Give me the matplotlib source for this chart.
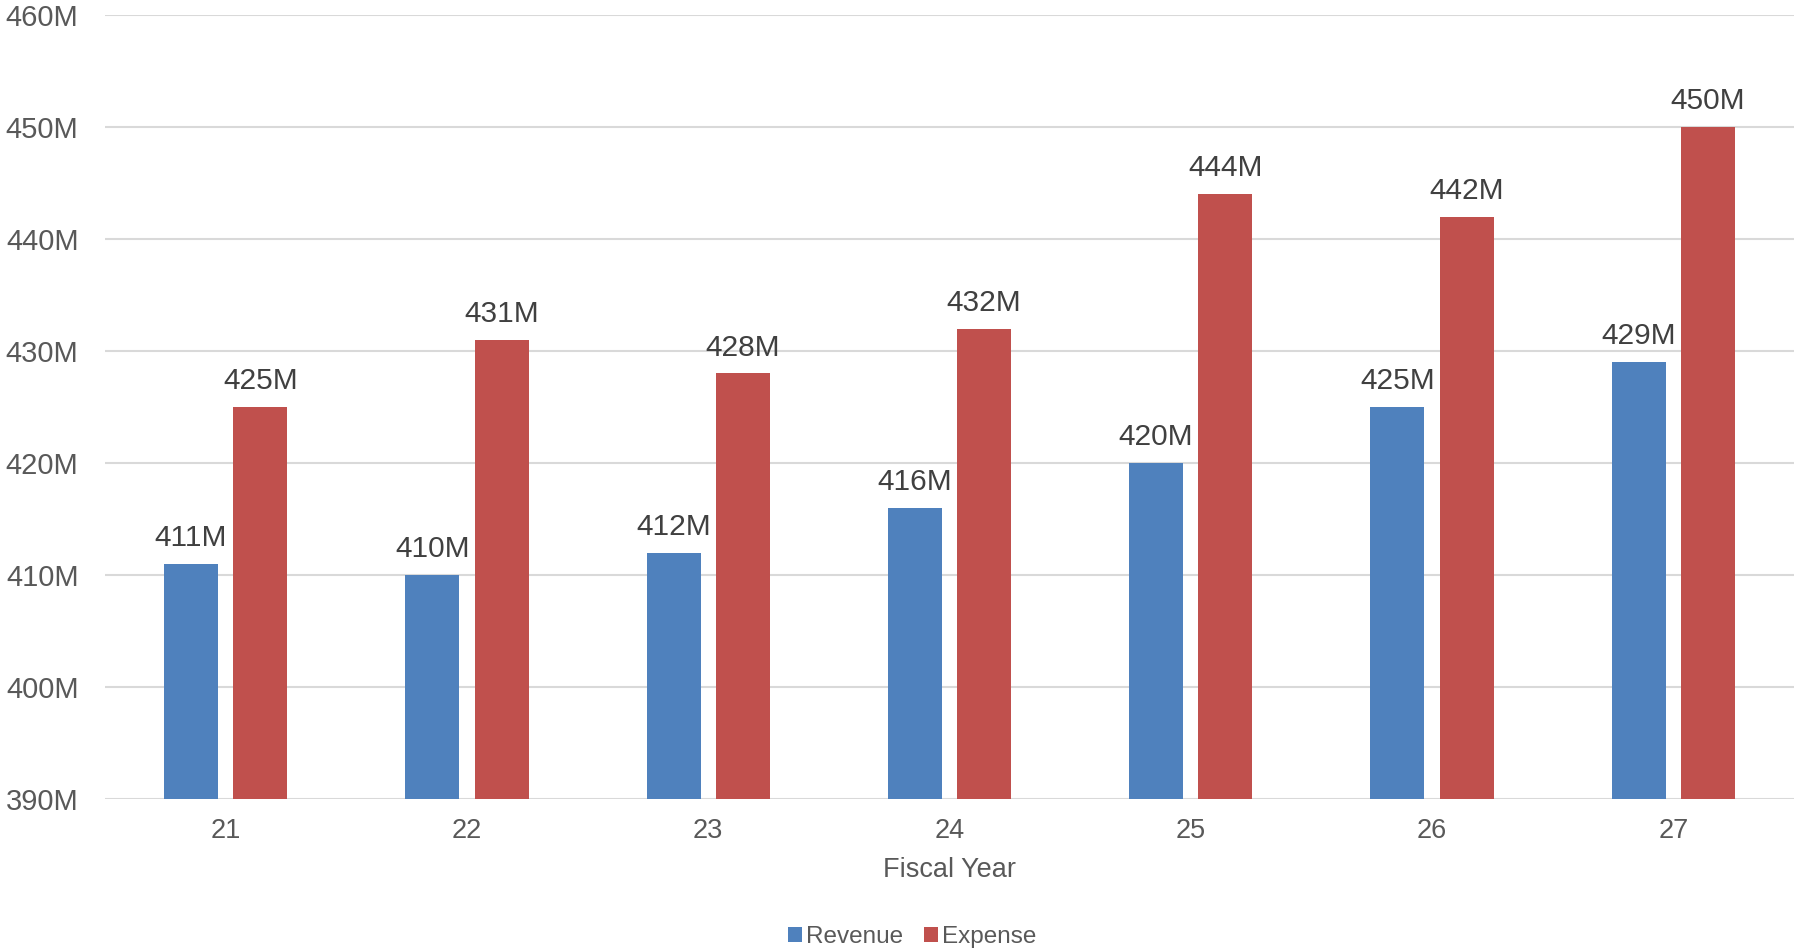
import matplotlib
matplotlib.use("Agg")
import matplotlib.pyplot as plt
import numpy as np

years = ["21", "22", "23", "24", "25", "26", "27"]
revenue = [411, 410, 412, 416, 420, 425, 429]
expense = [425, 431, 428, 432, 444, 442, 450]
yticks = [390, 400, 410, 420, 430, 440, 450, 460]

plt.rcParams['font.family'] = ['Liberation Sans', 'DejaVu Sans']

W, H = 1794, 952
fig = plt.figure(figsize=(W / 100, H / 100), dpi=100)
ax = fig.add_axes([105 / W, (H - 799) / H, 1 - 105 / W, (799 - 15) / H])

x = np.arange(len(years))
bw = 0.2236
off = 0.1435
blue = "#4F81BD"
red = "#C0504D"
b1 = ax.bar(x - off, revenue, bw, color=blue, label="Revenue", zorder=3)
b2 = ax.bar(x + off, expense, bw, color=red, label="Expense", zorder=3)

for bars, vals in ((b1, revenue), (b2, expense)):
    for rect, v in zip(bars, vals):
        ax.annotate(f"{v}M", (rect.get_x() + rect.get_width() / 2, v),
                    xytext=(0, 8.5), textcoords="offset points",
                    ha="center", va="bottom", fontsize=21.5, color="#404040")

ax.set_xlim(-0.5, len(years) - 0.5)
ax.set_ylim(390, 460)
ax.set_yticks(yticks)
ax.set_yticklabels([f"{t}M" for t in yticks])
ax.set_xticks(x)
ax.set_xticklabels(years)
ax.grid(axis="y", color="#D9D9D9", linewidth=1.5, zorder=0)
ax.set_axisbelow(True)
for s in ax.spines.values():
    s.set_visible(False)
ax.tick_params(axis="y", length=0, pad=19, labelsize=21, labelcolor="#595959")
ax.tick_params(axis="x", length=0, pad=14, labelsize=19.5, labelcolor="#595959")
ax.set_xlabel("Fiscal Year", fontsize=19.5, color="#595959", labelpad=9)

leg = fig.legend(handles=[b1, b2], loc="center", bbox_to_anchor=(912 / W, (H - 937) / H),
                 ncol=2, frameon=False, fontsize=17.5, handlelength=0.6, handleheight=0.6,
                 handletextpad=0.15, columnspacing=0.85, labelcolor="#595959")

fig.savefig("out.png", dpi=100, facecolor="white")
